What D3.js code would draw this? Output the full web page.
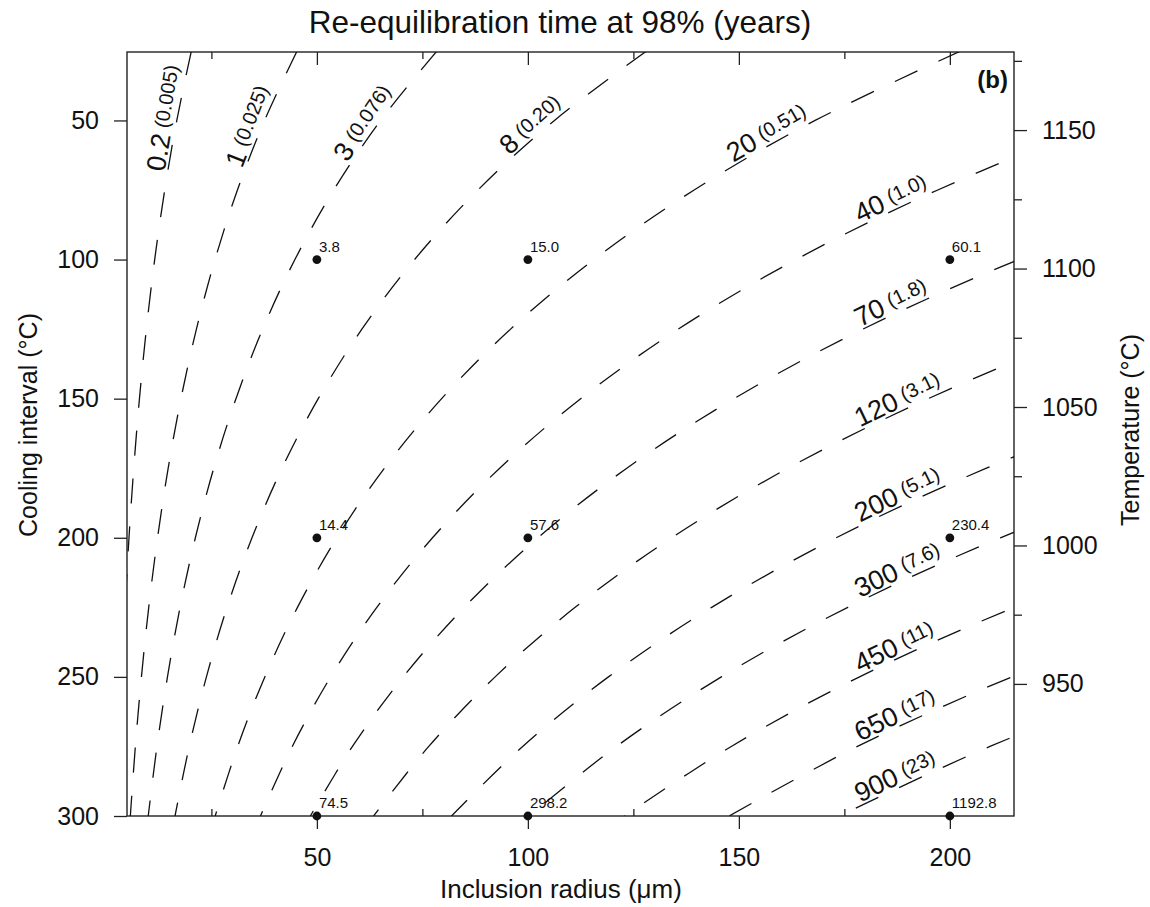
<!DOCTYPE html>
<html><head><meta charset="utf-8">
<script src="https://cdn.jsdelivr.net/npm/d3@7"></script>
<style>
body{margin:0;background:#fff;}
text{font-family:"Liberation Sans", Arial, Helvetica, sans-serif;fill:#111;}
</style></head><body>
<svg id="chart" width="1150" height="907"></svg>
<script>
// ---------------- data ----------------
const coolingIntervals = [25, 50, 75, 100, 125, 150, 175, 200, 225, 250, 275, 300];
const contourLevels = ["0.2", "1", "3", "8", "20", "40", "70", "120", "200", "300", "450", "650", "900"];
const contourSubLabels = ["(0.005)", "(0.025)", "(0.076)", "(0.20)", "(0.51)", "(1.0)", "(1.8)", "(3.1)", "(5.1)", "(7.6)", "(11)", "(17)", "(23)"];
// inclusion radius (µm) of each contour at each cooling interval above
const contourRadii = [
  [20.26, 16.80, 13.94, 11.56, 9.59, 7.95, 6.60, 5.47, 4.54, 3.77, 3.12, 2.59],
  [45.31, 37.59, 31.17, 25.86, 21.45, 17.79, 14.76, 12.24, 10.15, 8.42, 6.98, 5.79],
  [78.48, 65.10, 53.99, 44.79, 37.15, 30.82, 25.56, 21.20, 17.58, 14.59, 12.10, 10.03],
  [128.16, 106.30, 88.17, 73.14, 60.66, 50.32, 41.73, 34.62, 28.71, 23.82, 19.75, 16.38],
  [202.64, 168.07, 139.40, 115.64, 95.90, 79.56, 65.98, 54.73, 45.40, 37.66, 31.23, 25.90],
  [286.57, 237.68, 197.14, 163.54, 135.63, 112.51, 93.31, 77.40, 64.20, 53.26, 44.17, 36.63],
  [379.10, 314.43, 260.80, 216.35, 179.42, 148.85, 123.44, 102.39, 84.93, 70.45, 58.43, 48.46],
  [496.35, 411.68, 341.46, 283.26, 234.91, 194.88, 161.62, 134.06, 111.20, 92.24, 76.51, 63.44],
  [640.80, 531.49, 440.83, 365.70, 303.28, 251.59, 208.66, 173.07, 143.56, 119.09, 98.77, 81.90],
  [784.82, 650.94, 539.90, 447.89, 371.44, 308.14, 255.55, 211.97, 175.82, 145.85, 120.97, 100.31],
  [961.2, 797.2, 661.2, 548.5, 454.9, 377.4, 313.0, 259.6, 215.3, 178.6, 148.2, 122.9],
  [1155.3, 958.2, 794.7, 659.3, 546.8, 453.6, 376.2, 312.0, 258.8, 214.7, 178.1, 147.7],
  [1359.4, 1127.5, 935.1, 775.8, 643.4, 533.7, 442.6, 367.2, 304.5, 252.6, 209.5, 173.8]
];
// radius where each contour label starts
const labelRadius = [14.6, 32.9, 57.8, 96.1, 149, 179, 179, 179, 179, 179, 179, 179, 179];

const pointRadius   = [50, 100, 200, 50, 100, 200, 50, 100, 200];
const pointInterval = [100, 100, 100, 200, 200, 200, 300, 300, 300];
const pointTime     = ["3.8", "15.0", "60.1", "14.4", "57.6", "230.4", "74.5", "298.2", "1192.8"];

const xMajorTicks = [50, 100, 150, 200];
const xMinorTicks = [25, 75, 125, 175];
const yTicks = [50, 100, 150, 200, 250, 300];
const tMajorTicks = [1150, 1100, 1050, 1000, 950];
const tMinorTicks = [1175, 1125, 1075, 1025, 975];

// ---------------- layout ----------------
const L = 127, R = 1014, T = 52, B = 816;
const svg = d3.select("#chart");
const x = d3.scaleLinear().domain([5, 215.2]).range([L, R]);
const y = d3.scaleLinear().domain([25.4, 300]).range([T, B]);
const yT = d3.scaleLinear().domain([1178.2, 902.3]).range([T, B]);

svg.append("defs").append("clipPath").attr("id", "plotClip")
  .append("rect").attr("x", L).attr("y", T).attr("width", R - L).attr("height", B - T);

function styleAxis(g, size) {
  g.select(".domain").remove();
  g.selectAll(".tick line").attr("stroke", "#222").attr("stroke-width", 1.3);
  g.selectAll(".tick text").attr("font-size", size).attr("fill", "#111")
    .attr("font-family", '"Liberation Sans", Arial, sans-serif');
}

// bottom axis
svg.append("g").attr("transform", `translate(0,${B})`)
  .call(d3.axisBottom(x).tickValues(xMajorTicks).tickSize(13).tickPadding(19).tickFormat(d3.format("d")))
  .call(g => styleAxis(g, 25));
svg.append("g").attr("transform", `translate(0,${B})`)
  .call(d3.axisBottom(x).tickValues(xMinorTicks).tickSize(-7).tickFormat(""))
  .call(g => styleAxis(g, 25));
// top axis (inward ticks)
svg.append("g").attr("transform", `translate(0,${T})`)
  .call(d3.axisTop(x).tickValues(xMajorTicks).tickSize(-13).tickFormat(""))
  .call(g => styleAxis(g, 25));
svg.append("g").attr("transform", `translate(0,${T})`)
  .call(d3.axisTop(x).tickValues(xMinorTicks).tickSize(-7).tickFormat(""))
  .call(g => styleAxis(g, 25));
// left axis
svg.append("g").attr("transform", `translate(${L},0)`)
  .call(d3.axisLeft(y).tickValues(yTicks).tickSize(13).tickPadding(15).tickFormat(d3.format("d")))
  .call(g => styleAxis(g, 25));
// right axis (temperature)
svg.append("g").attr("transform", `translate(${R},0)`)
  .call(d3.axisRight(yT).tickValues(tMajorTicks).tickSize(13).tickPadding(15).tickFormat(d3.format("d")))
  .call(g => styleAxis(g, 25));
svg.append("g").attr("transform", `translate(${R},0)`)
  .call(d3.axisRight(yT).tickValues(tMinorTicks).tickSize(8).tickFormat(""))
  .call(g => styleAxis(g, 25));

// frame
svg.append("rect").attr("x", L).attr("y", T).attr("width", R - L).attr("height", B - T)
  .attr("fill", "none").attr("stroke", "#222").attr("stroke-width", 1.4);

// ---------------- contours ----------------
const line = d3.line().x(d => x(d[0])).y(d => y(d[1])).curve(d3.curveCatmullRom.alpha(0.5));
const gC = svg.append("g").attr("clip-path", "url(#plotClip)");
const paths = contourRadii.map(row => {
  const pts = coolingIntervals.map((c, i) => [row[i], c]);
  return gC.append("path").attr("d", line(pts)).attr("fill", "none")
    .attr("stroke", "#111").attr("stroke-width", 1.3).attr("stroke-dasharray", "25,23").node();
});

// contour labels
const gL = svg.append("g");
paths.forEach((node, j) => {
  const total = node.getTotalLength();
  const tx = x(labelRadius[j]);
  let lo = 0, hi = total;
  for (let k = 0; k < 60; k++) {
    const mid = (lo + hi) / 2;
    const p = node.getPointAtLength(mid);
    if (p.x > tx) lo = mid; else hi = mid;
  }
  const Ls = (lo + hi) / 2;
  const p0 = node.getPointAtLength(Ls);
  const p1 = node.getPointAtLength(Math.max(Ls - 30, 0));
  const ang = Math.atan2(p1.y - p0.y, p1.x - p0.x) * 180 / Math.PI;
  const t = gL.append("text").attr("transform", `translate(${p0.x},${p0.y}) rotate(${ang})`)
    .attr("dy", -3);
  t.append("tspan").attr("font-size", 27).text(contourLevels[j]);
  t.append("tspan").attr("font-size", 20).attr("dx", 6).attr("dy", -4).text(contourSubLabels[j]);
});

// ---------------- points ----------------
const pts = pointRadius.map((r, i) => ({ r, c: pointInterval[i], t: pointTime[i] }));
svg.append("g").selectAll("circle").data(pts).join("circle")
  .attr("cx", d => x(d.r)).attr("cy", d => y(d.c)).attr("r", 4.4).attr("fill", "#111");
svg.append("g").selectAll("text").data(pts).join("text")
  .attr("x", d => x(d.r) + 2).attr("y", d => y(d.c) - 8).attr("font-size", 15).text(d => d.t);

// ---------------- titles ----------------
svg.append("text").attr("x", 560).attr("y", 33).attr("text-anchor", "middle")
  .attr("font-size", 31.5).text("Re-equilibration time at 98% (years)");
svg.append("text").attr("x", 561).attr("y", 898).attr("text-anchor", "middle")
  .attr("font-size", 26).text("Inclusion radius (\u03BCm)");
svg.append("text").attr("transform", "translate(37,425) rotate(-90)").attr("text-anchor", "middle")
  .attr("font-size", 25).text("Cooling interval (\u00B0C)");
svg.append("text").attr("transform", "translate(1139,430) rotate(-90)").attr("text-anchor", "middle")
  .attr("font-size", 25).text("Temperature (\u00B0C)");
svg.append("text").attr("x", 1008).attr("y", 88).attr("text-anchor", "end")
  .attr("font-size", 24).attr("font-weight", "bold").text("(b)");
</script>
</body></html>
